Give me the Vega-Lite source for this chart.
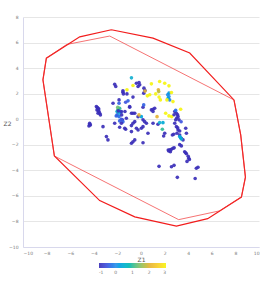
{
  "$schema": "https://vega.github.io/schema/vega-lite/v6.json",
  "autosize": "none",
  "width": 236,
  "height": 230,
  "padding": {"left": 23, "top": 17, "right": 7, "bottom": 36},
  "background": "white",
  "config": {
    "view": {"stroke": null},
    "axis": {"labelFontSize": 4.5, "labelColor": "#777", "titleFontSize": 6, "titleColor": "#555", "titleFontWeight": "normal", "domainColor": "#d8d8ec", "ticks": false, "labelFont": "DejaVu Sans", "titleFont": "DejaVu Sans"},
    "legend": {"labelFontSize": 4.5, "labelColor": "#777", "labelFont": "DejaVu Sans"}
  },
  "datasets": {
    "outer": [
      {"o": 0, "x": -2.51, "y": 7.0}, {"o": 1, "x": -5.19, "y": 6.45}, {"o": 2, "x": -8.02, "y": 4.78},
      {"o": 3, "x": -8.31, "y": 3.08}, {"o": 4, "x": -7.34, "y": -2.88}, {"o": 5, "x": -3.5, "y": -6.37},
      {"o": 6, "x": -0.53, "y": -7.64}, {"o": 7, "x": 3.0, "y": -8.37}, {"o": 8, "x": 5.65, "y": -7.78},
      {"o": 9, "x": 8.51, "y": -6.09}, {"o": 10, "x": 8.85, "y": -4.53}, {"o": 11, "x": 8.45, "y": -1.23},
      {"o": 12, "x": 7.88, "y": 1.51}, {"o": 13, "x": 4.13, "y": 5.18}, {"o": 14, "x": 1.02, "y": 6.35},
      {"o": 15, "x": -2.51, "y": 7.0}
    ],
    "inner": [
      {"o": 0, "x": -6.3, "y": 5.85}, {"o": 1, "x": -2.65, "y": 6.51}, {"o": 2, "x": 7.88, "y": 1.51},
      {"o": 3, "x": 8.45, "y": -1.23}, {"o": 4, "x": 8.85, "y": -4.53}, {"o": 5, "x": 8.51, "y": -6.09},
      {"o": 6, "x": 6.67, "y": -7.17}, {"o": 7, "x": 3.19, "y": -7.86}, {"o": 8, "x": -7.34, "y": -2.88},
      {"o": 9, "x": -8.31, "y": 3.08}, {"o": 10, "x": -8.02, "y": 4.78}, {"o": 11, "x": -6.3, "y": 5.85}
    ],
    "pts": [
      {"z1": -0.81, "z2": 3.24, "c": 0.5},
      {"z1": -2.23, "z2": 2.73, "c": -1}, {"z1": -2.14, "z2": 2.56, "c": -1},
      {"z1": -0.68, "z2": 2.64, "c": 3},
      {"z1": -0.39, "z2": 2.82, "c": -1}, {"z1": -0.17, "z2": 2.87, "c": -1}, {"z1": -0.11, "z2": 2.69, "c": -1}, {"z1": -0.25, "z2": 2.56, "c": -1},
      {"z1": -1.19, "z2": 2.3, "c": 3},
      {"z1": -1.53, "z2": 2.12, "c": -1}, {"z1": -1.53, "z2": 2.22, "c": -1},
      {"z1": 0.25, "z2": 2.43, "c": -1}, {"z1": 0.34, "z2": 2.24, "c": -1}, {"z1": 0.23, "z2": 2.04, "c": -1}, {"z1": 0.34, "z2": 2.2, "c": 2},
      {"z1": 0.88, "z2": 2.77, "c": 3}, {"z1": 1.58, "z2": 2.95, "c": 3}, {"z1": 2.01, "z2": 2.82, "c": 3}, {"z1": 2.37, "z2": 2.61, "c": 3},
      {"z1": 1.47, "z2": 2.3, "c": 2}, {"z1": 1.5, "z2": 2.16, "c": 1.8},
      {"z1": 1.25, "z2": 1.98, "c": 3}, {"z1": 0.54, "z2": 1.83, "c": 3}, {"z1": 0.74, "z2": 1.91, "c": 3}, {"z1": 1.64, "z2": 1.51, "c": 3}, {"z1": 1.53, "z2": 1.73, "c": 3},
      {"z1": 2.26, "z2": 1.91, "c": 0}, {"z1": 2.37, "z2": 2.04, "c": 0.1}, {"z1": 2.37, "z2": 1.77, "c": 0}, {"z1": 2.43, "z2": 1.51, "c": -0.1}, {"z1": 2.3, "z2": 1.65, "c": 0.2},
      {"z1": 2.58, "z2": 2.09, "c": 3}, {"z1": 2.2, "z2": 1.51, "c": 3}, {"z1": 2.71, "z2": 1.38, "c": 3},
      {"z1": -2.37, "z2": 1.25, "c": -1}, {"z1": -1.86, "z2": 1.51, "c": -1}, {"z1": -1.1, "z2": 1.44, "c": -0.4},
      {"z1": -1.49, "z2": 1.98, "c": -1}, {"z1": -1.19, "z2": 1.98, "c": -1}, {"z1": -0.68, "z2": 1.73, "c": -1}, {"z1": -1.86, "z2": 1.25, "c": -0.4}, {"z1": -1.3, "z2": 1.33, "c": -0.5},
      {"z1": -3.78, "z2": 0.99, "c": -1}, {"z1": -3.64, "z2": 0.86, "c": -1}, {"z1": -3.73, "z2": 0.73, "c": -1}, {"z1": -3.56, "z2": 0.6, "c": -1}, {"z1": -3.5, "z2": 0.47, "c": -1},
      {"z1": -3.64, "z2": 0.47, "c": -1}, {"z1": -3.44, "z2": 0.34, "c": -1}, {"z1": -3.7, "z2": 0.92, "c": -1}, {"z1": -3.58, "z2": 0.8, "c": -1}, {"z1": -3.62, "z2": 0.65, "c": -1},
      {"z1": -1.95, "z2": 0.78, "c": 1.2}, {"z1": -1.86, "z2": 0.67, "c": 0.8}, {"z1": -1.81, "z2": 0.86, "c": 1.0}, {"z1": -2.03, "z2": 0.6, "c": 0.6}, {"z1": -1.86, "z2": 0.47, "c": 0.5},
      {"z1": -1.97, "z2": 0.93, "c": 1.3}, {"z1": -1.71, "z2": 0.57, "c": 0.1}, {"z1": -1.93, "z2": 0.65, "c": -1},
      {"z1": -1.66, "z2": 0.6, "c": -1}, {"z1": -2.03, "z2": 0.34, "c": -0.3}, {"z1": -1.86, "z2": 0.2, "c": -0.3}, {"z1": -2.1, "z2": 0.25, "c": -0.4}, {"z1": -1.64, "z2": 0.34, "c": -1}, {"z1": -1.58, "z2": -0.05, "c": -1},
      {"z1": -0.96, "z2": 0.99, "c": -1}, {"z1": -0.53, "z2": 0.47, "c": -1}, {"z1": -0.81, "z2": 0.47, "c": -1},
      {"z1": -1.81, "z2": -0.13, "c": -0.4}, {"z1": -1.53, "z2": -0.19, "c": -0.4}, {"z1": -1.66, "z2": -0.31, "c": -1}, {"z1": -1.24, "z2": 0.08, "c": -1}, {"z1": -1.66, "z2": 0.0, "c": -0.5},
      {"z1": -0.25, "z2": 0.2, "c": -1}, {"z1": 0.03, "z2": 0.2, "c": 0.3}, {"z1": -0.17, "z2": 0.34, "c": 2},
      {"z1": -0.53, "z2": -0.19, "c": -1}, {"z1": -0.68, "z2": -0.31, "c": -1}, {"z1": 0.17, "z2": -0.05, "c": -1}, {"z1": 0.31, "z2": -0.19, "c": -1}, {"z1": 0.46, "z2": -0.31, "c": -1},
      {"z1": 0.88, "z2": 0.73, "c": -1}, {"z1": 1.02, "z2": 0.6, "c": -1}, {"z1": 1.02, "z2": 0.78, "c": -1}, {"z1": 1.16, "z2": 0.86, "c": -1},
      {"z1": 0.17, "z2": 0.94, "c": -1}, {"z1": 0.23, "z2": 1.12, "c": -0.4}, {"z1": -0.96, "z2": 0.94, "c": -1}, {"z1": -1.36, "z2": 0.6, "c": -1}, {"z1": -0.68, "z2": 0.47, "c": -1},
      {"z1": 1.36, "z2": 0.2, "c": 2},
      {"z1": 2.09, "z2": 0.47, "c": 3}, {"z1": 2.37, "z2": 0.26, "c": 3}, {"z1": 2.6, "z2": 0.2, "c": 3}, {"z1": 3.36, "z2": 0.78, "c": 3},
      {"z1": 2.86, "z2": 0.6, "c": -1}, {"z1": 3.0, "z2": 0.47, "c": -1}, {"z1": 3.14, "z2": 0.2, "c": -1}, {"z1": 3.22, "z2": -0.05, "c": -1}, {"z1": 3.03, "z2": 0.1, "c": -1},
      {"z1": 2.94, "z2": 0.69, "c": -0.3}, {"z1": 2.8, "z2": 0.35, "c": -1}, {"z1": 3.1, "z2": 0.35, "c": -1},
      {"z1": -4.35, "z2": -0.31, "c": -1}, {"z1": -4.29, "z2": -0.45, "c": -1}, {"z1": -4.41, "z2": -0.53, "c": -1}, {"z1": -4.35, "z2": -0.42, "c": -1},
      {"z1": -3.22, "z2": -0.58, "c": -1}, {"z1": -2.23, "z2": -0.31, "c": -1}, {"z1": -1.81, "z2": -0.63, "c": -1}, {"z1": -1.38, "z2": -0.71, "c": -1}, {"z1": -1.3, "z2": -0.78, "c": -1}, {"z1": -0.81, "z2": -0.5, "c": -1},
      {"z1": -0.25, "z2": -0.84, "c": -1}, {"z1": -0.39, "z2": -0.71, "c": -1}, {"z1": 0.17, "z2": -0.58, "c": -1}, {"z1": 0.03, "z2": -0.71, "c": -1},
      {"z1": 1.02, "z2": -0.31, "c": -1}, {"z1": 1.44, "z2": -0.39, "c": -1}, {"z1": 1.58, "z2": -0.27, "c": 0.5}, {"z1": 1.86, "z2": -0.27, "c": 0.4}, {"z1": 1.81, "z2": -0.78, "c": 1},
      {"z1": 2.86, "z2": -0.31, "c": -1}, {"z1": 3.0, "z2": -0.58, "c": -1}, {"z1": 3.14, "z2": -0.84, "c": -1}, {"z1": 3.05, "z2": -1.1, "c": -1}, {"z1": 3.28, "z2": -1.23, "c": -1},
      {"z1": 3.42, "z2": -1.49, "c": -1}, {"z1": 3.56, "z2": -1.62, "c": -1}, {"z1": 2.94, "z2": -0.05, "c": -1}, {"z1": 3.11, "z2": -0.68, "c": -1}, {"z1": 3.28, "z2": -0.92, "c": -1}, {"z1": 3.4, "z2": -0.2, "c": -0.5},
      {"z1": 3.28, "z2": -1.36, "c": 0.3}, {"z1": 3.42, "z2": -1.55, "c": 0.5}, {"z1": 3.35, "z2": -1.45, "c": 0.4},
      {"z1": 3.79, "z2": -0.71, "c": -1}, {"z1": 3.85, "z2": -1.1, "c": -1},
      {"z1": -0.81, "z2": -0.97, "c": -1}, {"z1": 0.59, "z2": -1.1, "c": -1},
      {"z1": -2.93, "z2": -1.36, "c": -1}, {"z1": -2.8, "z2": -1.62, "c": -1},
      {"z1": -0.53, "z2": -1.62, "c": -1}, {"z1": -0.81, "z2": -1.88, "c": -1}, {"z1": -0.68, "z2": -1.76, "c": -1}, {"z1": 0.17, "z2": -1.84, "c": -1},
      {"z1": 2.01, "z2": -1.1, "c": -1}, {"z1": 1.92, "z2": -1.31, "c": -1}, {"z1": 2.66, "z2": -1.23, "c": -1}, {"z1": 2.77, "z2": -1.18, "c": -1},
      {"z1": 3.28, "z2": -1.99, "c": -1}, {"z1": 3.42, "z2": -2.09, "c": -1},
      {"z1": 2.31, "z2": -2.41, "c": -1}, {"z1": 2.58, "z2": -2.35, "c": -1}, {"z1": 2.71, "z2": -2.27, "c": -1}, {"z1": 2.49, "z2": -2.54, "c": -1}, {"z1": 2.35, "z2": -2.49, "c": -1}, {"z1": 2.81, "z2": -2.24, "c": -1}, {"z1": 2.45, "z2": -2.4, "c": -1},
      {"z1": 3.7, "z2": -2.55, "c": -1}, {"z1": 3.85, "z2": -2.7, "c": -1}, {"z1": 4.0, "z2": -2.9, "c": -1}, {"z1": 4.1, "z2": -3.15, "c": -1}, {"z1": 3.9, "z2": -3.3, "c": -1}, {"z1": 4.05, "z2": -3.05, "c": -1}, {"z1": 3.78, "z2": -2.62, "c": -1},
      {"z1": 4.69, "z2": -3.84, "c": -1}, {"z1": 4.83, "z2": -3.76, "c": -1},
      {"z1": 2.58, "z2": -3.72, "c": -1}, {"z1": 2.8, "z2": -3.61, "c": -1},
      {"z1": 3.08, "z2": -4.55, "c": -1}, {"z1": 4.59, "z2": -4.64, "c": -1}, {"z1": 1.53, "z2": -3.69, "c": -1}
    ]
  },
  "encoding": {
    "x": {"type": "quantitative", "scale": {"domain": [-10, 10], "nice": false}, "axis": {"title": "Z1", "values": [-10, -8, -6, -4, -2, 0, 2, 4, 6, 8, 10], "grid": false, "labelOverlap": false, "labelPadding": 3, "titlePadding": 2}},
    "y": {"type": "quantitative", "scale": {"domain": [-10, 8], "nice": false}, "axis": {"title": "Z2", "values": [-10, -8, -6, -4, -2, 0, 2, 4, 6, 8], "grid": true, "gridColor": "#e0e0e0", "gridWidth": 0.8, "gridOpacity": 1, "labelOverlap": false, "labelPadding": 5, "titleAngle": 0, "titleX": -16, "titleY": 106, "titleAlign": "center", "titleBaseline": "middle"}}
  },
  "layer": [
    {
      "data": {"name": "outer"},
      "mark": {"type": "line", "color": "#f21c1c", "strokeWidth": 1.2, "clip": true},
      "encoding": {
        "x": {"field": "x", "type": "quantitative"},
        "y": {"field": "y", "type": "quantitative"},
        "order": {"field": "o", "type": "quantitative"}
      }
    },
    {
      "data": {"name": "inner"},
      "mark": {"type": "line", "color": "#f03030", "strokeWidth": 0.8, "opacity": 0.85, "clip": true},
      "encoding": {
        "x": {"field": "x", "type": "quantitative"},
        "y": {"field": "y", "type": "quantitative"},
        "order": {"field": "o", "type": "quantitative"}
      }
    },
    {
      "data": {"name": "pts"},
      "mark": {"type": "point", "filled": true, "size": 13, "opacity": 0.92},
      "encoding": {
        "x": {"field": "z1", "type": "quantitative"},
        "y": {"field": "z2", "type": "quantitative"},
        "color": {
          "field": "c", "type": "quantitative",
          "scale": {"domain": [-1, -0.5, 0, 0.5, 1, 1.5, 2, 2.5, 3], "range": ["#3b2fb8", "#3f55e0", "#2a8ee8", "#14b0d0", "#30bc98", "#90c060", "#e4b234", "#f8cc28", "#f6f512"]},
          "legend": {"title": null, "orient": "none", "direction": "horizontal", "legendX": 76, "legendY": 246, "gradientLength": 67, "gradientThickness": 5, "values": [-1, 0, 1, 2, 3], "labelOffset": 2, "gradientStrokeWidth": 0, "labelExpr": "replace(datum.label, '−', '-')"}
        }
      }
    }
  ]
}
